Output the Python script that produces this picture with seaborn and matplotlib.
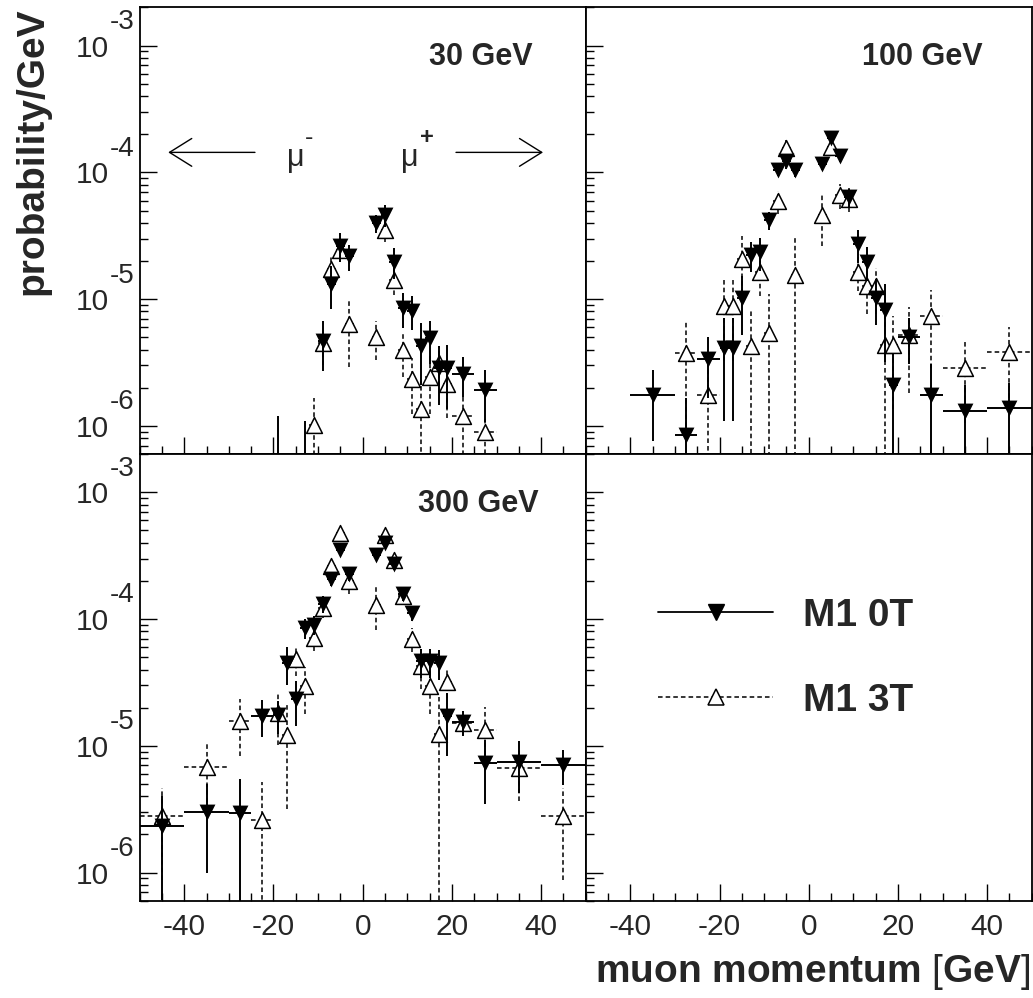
import numpy as np
import seaborn as sns
import matplotlib.pyplot as plt
import matplotlib.transforms as mtransforms
from matplotlib.lines import Line2D
from matplotlib.ticker import FixedLocator, MultipleLocator, LogLocator, NullFormatter, FuncFormatter

nan = np.nan

# bin centres and half widths of the momentum histograms [GeV]
bin_centers = [-45, -35, -27.5, -22.5, -19, -17, -15, -13, -11, -9, -7, -5, -3, -1,
               1, 3, 5, 7, 9, 11, 13, 15, 17, 19, 22.5, 27.5, 35, 45]
bin_half_widths = [5, 5, 2.5, 2.5, 1, 1, 1, 1, 1, 1, 1, 1, 1, 1,
                   1, 1, 1, 1, 1, 1, 1, 1, 1, 1, 2.5, 2.5, 5, 5]

# 30 GeV
p30_m1_0t = [nan, nan, nan, nan, 3e-7, nan, nan, 3e-7, nan, 4.7e-6, 1.32e-5, 2.64e-5, 2.17e-5, nan,
             nan, 3.98e-5, 4.63e-5, 1.98e-5, 8.5e-6, 8.1e-6, 4.3e-6, 4.9e-6, 2.85e-6, 2.85e-6, 2.58e-6, 1.92e-6, nan, nan]
e30_m1_0t = [nan, nan, nan, nan, 9e-7, nan, nan, 8e-7, nan, 2e-6, 4.9e-6, 6.8e-6, 5e-6, nan,
             nan, 6.5e-6, 9e-6, 5.5e-6, 2.6e-6, 2.4e-6, 2.2e-6, 1.8e-6, 1.4e-6, 1.5e-6, 9e-7, 8.5e-7, nan, nan]
p30_m1_3t = [nan, nan, nan, nan, nan, nan, nan, nan, 1.02e-6, 4.5e-6, 1.73e-5, 2.45e-5, 6.4e-6, nan,
             nan, 5.0e-6, 3.52e-5, 1.42e-5, 3.94e-6, 2.35e-6, 1.37e-6, 2.45e-6, 3.16e-6, 2.15e-6, 1.19e-6, 9.0e-7, nan, nan]
e30_m1_3t = [nan, nan, nan, nan, nan, nan, nan, nan, 6.3e-7, 1.5e-6, 4.4e-6, 5e-6, 3.5e-6, nan,
             nan, 1.7e-6, 7e-6, 3.5e-6, 1.5e-6, 1.1e-6, 9e-7, 1.2e-6, 1.1e-6, 1e-6, 6e-7, 3e-7, nan, nan]

# 100 GeV
p100_m1_0t = [nan, 1.76e-6, 8.5e-7, 3.36e-6, 4.1e-6, 4.1e-6, 1.02e-5, 2.24e-5, 2.35e-5, 4.18e-5, 1.05e-4, 1.22e-4, 1.04e-4, nan,
              nan, 1.16e-4, 1.87e-4, 1.34e-4, 6.38e-5, 2.72e-5, 1.98e-5, 1.03e-5, 8.2e-6, 2.11e-6, 5.07e-6, 1.76e-6, 1.31e-6, 1.38e-6]
e100_m1_0t = [nan, 1.0e-6, 8e-7, 1.7e-6, 3e-6, 3e-6, 5e-6, 6e-6, 6.8e-6, 7e-6, 1.2e-5, 1.5e-5, 1.2e-5, nan,
              nan, 1.2e-5, 1.8e-5, 1.3e-5, 1e-5, 8e-6, 6e-6, 4e-6, 5e-6, 1.6e-6, 2e-6, 1.3e-6, 8e-7, 8e-7]
p100_m1_3t = [nan, nan, 3.75e-6, 1.76e-6, 8.75e-6, 8.75e-6, 2.07e-5, 4.23e-6, 1.65e-5, 5.4e-6, 5.9e-5, 1.56e-4, 1.56e-5, nan,
              nan, 4.64e-5, 1.6e-4, 6.66e-5, 6.17e-5, 1.65e-5, 1.26e-5, 1.26e-5, 4.36e-6, 4.36e-6, 5.22e-6, 7.38e-6, 2.85e-6, 3.86e-6]
e100_m1_3t = [nan, nan, 3e-6, 1.6e-6, 5.5e-6, 5.5e-6, 1.1e-5, 4e-6, 6e-6, 5.5e-6, 1.2e-5, 2.5e-5, 1.6e-5, nan,
              nan, 2e-5, 2e-5, 1.5e-5, 1.3e-5, 5e-6, 5e-6, 5e-6, 5.8e-6, 3e-6, 3.4e-6, 4.5e-6, 1.8e-6, 2.2e-6]

# 300 GeV
p300_m1_0t = [2.31e-6, 2.99e-6, 2.95e-6, 1.73e-5, 1.74e-5, 4.5e-5, 2.33e-5, 8.49e-5, 9.02e-5, 1.32e-4, 2.07e-4, 3.48e-4, 2.28e-4, nan,
              nan, 3.22e-4, 3.98e-4, 2.72e-4, 1.58e-4, 1.11e-4, 4.63e-5, 4.63e-5, 4.5e-5, 1.73e-5, 1.54e-5, 7.29e-6, 7.52e-6, 7.08e-6]
e300_m1_0t = [1.7e-6, 2e-6, 2.5e-6, 5.5e-6, 5e-6, 1.5e-5, 9e-6, 1.5e-5, 1.5e-5, 2e-5, 2.5e-5, 3e-5, 3e-5, nan,
              nan, 3e-5, 3.5e-5, 3e-5, 2e-5, 1.5e-5, 1.2e-5, 1.2e-5, 1.2e-5, 9e-6, 3.5e-6, 3.8e-6, 3.3e-6, 2.2e-6]
p300_m1_3t = [2.77e-6, 6.79e-6, 1.58e-5, 2.58e-6, 1.81e-5, 1.22e-5, 4.83e-5, 2.98e-5, 7.08e-5, 1.22e-4, 2.6e-4, 4.77e-4, 1.98e-4, nan,
              nan, 1.3e-4, 4.63e-4, 2.94e-4, 1.51e-4, 7.0e-5, 4.3e-5, 2.99e-5, 1.24e-5, 3.18e-5, 1.51e-5, 1.34e-5, 6.67e-6, 2.77e-6]
e300_m1_3t = [1.9e-6, 3.7e-6, 7.5e-6, 2.6e-6, 8e-6, 9e-6, 1.3e-5, 1.2e-5, 1.5e-5, 2e-5, 3e-5, 5e-5, 4e-5, nan,
              nan, 4.8e-5, 5e-5, 3e-5, 2e-5, 1.5e-5, 1.5e-5, 1.2e-5, 1.2e-5, 8e-6, 3e-6, 7e-6, 3e-6, 1.9e-6]

x_major_ticks = [-40, -20, 0, 20, 40]
y_exponents = [-3, -4, -5, -6]
series_labels = ["M1 0T", "M1 3T"]

sns.set_theme(style="ticks", rc={"axes.linewidth": 1.3, "axes.edgecolor": "black"})
plt.rcParams["font.family"] = ["Liberation Sans", "DejaVu Sans"]
plt.rcParams["axes.unicode_minus"] = False
plt.rcParams["mathtext.fontset"] = "custom"
plt.rcParams["mathtext.rm"] = "Liberation Sans"
plt.rcParams["mathtext.bf"] = "Liberation Sans:bold"

DASH = (0, (3, 2))

fig = plt.figure(figsize=(10.33, 9.98), dpi=100)
ax_w, ax_h = 0.4318, 0.4474
ax_tl = fig.add_axes([0.1352, 0.5451, ax_w, ax_h])
ax_tr = fig.add_axes([0.5670, 0.5451, ax_w, ax_h])
ax_bl = fig.add_axes([0.1352, 0.0975, ax_w, ax_h])
ax_br = fig.add_axes([0.5670, 0.0975, ax_w, ax_h])


def draw_panel(ax, v0, e0, v3, e3):
    eb = ax.errorbar(bin_centers, v3, yerr=e3, xerr=bin_half_widths, fmt="none",
                     ecolor="black", elinewidth=1.1, capsize=0, zorder=2)
    for c in eb[2]:
        c.set_linestyle(DASH)
    sns.scatterplot(x=bin_centers, y=v3, marker="^", s=130, color="white",
                    edgecolor="black", linewidth=1.1, zorder=3, ax=ax)
    ax.errorbar(bin_centers, v0, yerr=e0, xerr=bin_half_widths, fmt="none",
                ecolor="black", elinewidth=1.4, capsize=0, zorder=4)
    sns.scatterplot(x=bin_centers, y=v0, marker="v", s=130, color="black",
                    linewidth=0, zorder=5, ax=ax)


def style_axis(ax, show_x, show_y):
    ax.set_yscale("log")
    ax.set_xlim(-50, 50)
    ax.set_ylim(6e-7, 2e-3)
    ax.xaxis.set_major_locator(FixedLocator(x_major_ticks))
    ax.xaxis.set_minor_locator(MultipleLocator(5))
    ax.yaxis.set_major_locator(LogLocator(base=10, numticks=10))
    ax.yaxis.set_minor_locator(LogLocator(base=10, subs=np.arange(2, 10), numticks=10))
    ax.yaxis.set_minor_formatter(NullFormatter())
    ax.yaxis.set_major_formatter(FuncFormatter(lambda v, p: "10"))
    ax.tick_params(which="both", direction="in", top=False, right=False, width=1.0, color="black")
    ax.tick_params(which="major", length=12)
    ax.tick_params(which="minor", length=5.5)
    ax.tick_params(axis="x", labelsize=21.5, pad=9, labelbottom=show_x)
    ax.tick_params(axis="y", labelsize=21.5, pad=22, labelleft=show_y)
    ax.set_xlabel("")
    ax.set_ylabel("")
    for s in ax.spines.values():
        s.set_visible(True)
    if show_y:
        trans = mtransforms.blended_transform_factory(ax.transAxes, ax.transData)
        for e in y_exponents:
            ax.annotate(str(e), xy=(0, 10.0 ** e), xycoords=trans, xytext=(-21.5, 17),
                        textcoords="offset points", ha="left", va="center", fontsize=20)


draw_panel(ax_tl, p30_m1_0t, e30_m1_0t, p30_m1_3t, e30_m1_3t)
draw_panel(ax_tr, p100_m1_0t, e100_m1_0t, p100_m1_3t, e100_m1_3t)
draw_panel(ax_bl, p300_m1_0t, e300_m1_0t, p300_m1_3t, e300_m1_3t)

style_axis(ax_tl, False, True)
style_axis(ax_tr, False, False)
style_axis(ax_bl, True, True)
style_axis(ax_br, True, False)

# energy labels
ax_tl.text(0.882, 0.889, "30 GeV", transform=ax_tl.transAxes, ha="right", va="center",
           fontsize=22, fontweight="bold")
ax_tr.text(0.889, 0.889, "100 GeV", transform=ax_tr.transAxes, ha="right", va="center",
           fontsize=22, fontweight="bold")
ax_bl.text(0.894, 0.889, "300 GeV", transform=ax_bl.transAxes, ha="right", va="center",
           fontsize=22, fontweight="bold")

# charge arrows
arrow_kw = dict(arrowstyle="->,head_length=1.6,head_width=1.0", lw=1.0, color="black",
                shrinkA=0, shrinkB=0, mutation_scale=10)
ax_tl.annotate("", xy=(0.064, 0.6755), xytext=(0.2585, 0.6755), xycoords="axes fraction",
               arrowprops=arrow_kw)
ax_tl.annotate("", xy=(0.9043, 0.6755), xytext=(0.7092, 0.6755), xycoords="axes fraction",
               arrowprops=arrow_kw)
ax_tl.text(0.35, 0.664, "μ", transform=ax_tl.transAxes, ha="center", va="center", fontsize=22)
ax_tl.text(0.3715, 0.708, "-", transform=ax_tl.transAxes, ha="left", va="center", fontsize=18)
ax_tl.text(0.606, 0.664, "μ", transform=ax_tl.transAxes, ha="center", va="center", fontsize=22)
ax_tl.text(0.628, 0.708, "+", transform=ax_tl.transAxes, ha="left", va="center", fontsize=17,
           fontweight="bold")

# legend
handles = [
    Line2D([], [], color="black", lw=1.3, ls="-", marker="v", markersize=11.5),
    Line2D([], [], color="black", lw=1.1, ls=DASH, marker="^", markersize=11.5,
           markerfacecolor="white", markeredgewidth=1.1),
]
ax_br.legend(handles, series_labels, loc="upper left", bbox_to_anchor=(0.162, 0.678),
             frameon=False, borderpad=0, borderaxespad=0, handlelength=2.96,
             handletextpad=0.77, labelspacing=1.25, numpoints=1,
             prop={"family": "Liberation Sans", "weight": "bold", "size": 28})

fig.text(0.031, 0.992, "probability/GeV", rotation=90, ha="center", va="top",
         fontsize=28, fontweight="bold")
fig.text(0.998, 0.006, "muon momentum $[$GeV$]$", ha="right", va="bottom",
         fontsize=28, fontweight="bold")

fig.savefig("out.png", dpi=100, facecolor="white")
